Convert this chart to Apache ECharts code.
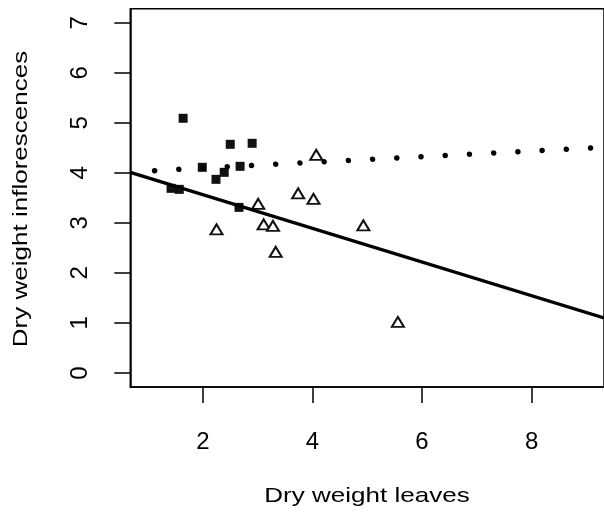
<!DOCTYPE html>
<html>
<head>
<meta charset="utf-8">
<script src="https://cdn.jsdelivr.net/npm/echarts@6/dist/echarts.min.js"></script>
<style>
html,body{margin:0;padding:0;background:#fff;}
#chart{width:604px;height:516px;}
</style>
</head>
<body>
<div id="chart"></div>
<script>
// Filled squares group
const squareX = [1.64, 1.99, 2.50, 2.90, 2.68, 2.39, 2.24, 1.42, 1.57, 2.66];
const squareY = [5.09, 4.11, 4.57, 4.59, 4.13, 4.01, 3.87, 3.69, 3.67, 3.31];
// Open triangles group
const triX = [2.25, 3.01, 3.11, 3.28, 3.33, 3.74, 4.02, 4.93, 5.56, 4.07];
const triY = [2.87, 3.38, 2.97, 2.94, 2.42, 3.59, 3.48, 2.95, 1.02, 4.36];
// Solid fitted line (end points)
const fitX = [0.676, 9.322];
const fitY = [4.01, 1.10];
// Dotted curve
const dotX = [1.12, 3.77, 5.53, 7.30, 9.12];
const dotY = [4.044, 4.198, 4.297, 4.397, 4.500];
// Ticks
const xTicks = [2, 4, 6, 8];
const yTicks = [0, 1, 2, 3, 4, 5, 6, 7];
const xTitle = 'Dry weight leaves';
const yTitle = 'Dry weight inflorescences';

const zip = (a, b) => a.map((v, i) => [v, b[i]]);
const FONT = "'Liberation Sans', Arial, sans-serif";

const chart = echarts.init(document.getElementById('chart'), null, {renderer: 'canvas'});
chart.setOption({
  animation: false,
  backgroundColor: '#fff',
  textStyle: {fontFamily: FONT, fontSize: 20},
  grid: {
    left: 130.3, top: 8.7, bottom: 129, right: -1,
    show: true, borderColor: '#000', borderWidth: 1.5, backgroundColor: 'transparent'
  },
  xAxis: {
    type: 'value', min: 0.676, max: 9.322,
    splitLine: {show: false},
    axisLine: {show: true, onZero: false, lineStyle: {color: '#000', width: 1.5}},
    axisTick: {show: true, customValues: xTicks, length: 16, lineStyle: {color: '#000', width: 1.5}},
    axisLabel: {show: true, customValues: xTicks, margin: 43, textStyle: {color: '#000', fontSize: 24, fontFamily: FONT},
                color: '#000', fontSize: 24, fontFamily: FONT}
  },
  yAxis: {
    type: 'value', min: -0.28, max: 7.28,
    splitLine: {show: false},
    axisLine: {show: true, onZero: false, lineStyle: {color: '#000', width: 1.5}},
    axisTick: {show: true, customValues: yTicks, length: 16, lineStyle: {color: '#000', width: 1.5}},
    axisLabel: {show: true, customValues: yTicks, rotate: 90, margin: 38, color: '#000', fontSize: 24, fontFamily: FONT}
  },
  graphic: [
    {type: 'text', x: 367, y: 496, scaleX: 1.24,
     style: {text: xTitle, fill: '#000', fontSize: 21, fontFamily: FONT, align: 'center', verticalAlign: 'middle'}},
    {type: 'text', x: 21, y: 199, rotation: Math.PI / 2, scaleX: 1.24,
     style: {text: yTitle, fill: '#000', fontSize: 21, fontFamily: FONT, align: 'center', verticalAlign: 'middle'}}
  ],
  series: [
    {
      type: 'line', data: zip(fitX, fitY), showSymbol: false, clip: true,
      lineStyle: {color: '#000', width: 3.3}
    },
    {
      type: 'line', data: zip(dotX, dotY), showSymbol: false, clip: true,
      lineStyle: {color: '#000', width: 5.5, type: [0.001, 24.25], cap: 'round'}
    },
    {
      type: 'scatter', data: zip(squareX, squareY), symbol: 'rect', symbolSize: 9,
      itemStyle: {color: '#111', opacity: 1}
    },
    {
      type: 'scatter', data: zip(triX, triY), symbol: 'triangle', symbolSize: [12, 10],
      itemStyle: {color: '#fff', opacity: 1, borderColor: '#111', borderWidth: 2}
    }
  ]
});
</script>
</body>
</html>
